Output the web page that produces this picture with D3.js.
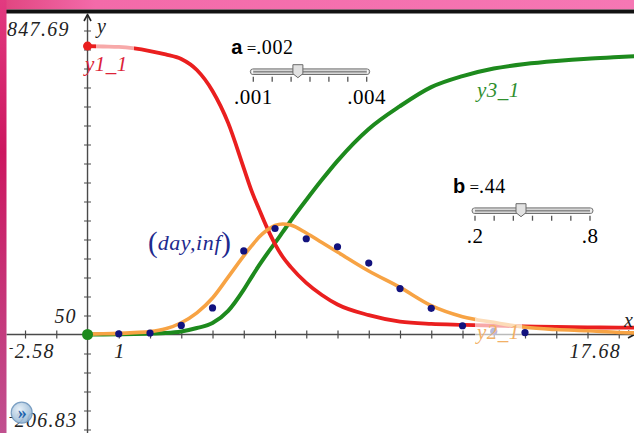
<!DOCTYPE html>
<html><head><meta charset="utf-8">
<script src="https://cdn.jsdelivr.net/npm/d3@7/dist/d3.min.js"></script>
<style>
html,body{margin:0;padding:0;background:#fff;overflow:hidden;}
svg{display:block;}
text{font-family:"Liberation Serif","Times New Roman",serif;}
</style></head><body>
<svg id="chart" width="634" height="433"></svg>
<script>
// ---- window settings ----
const xWindow = [-2.58, 17.68];
const yWindow = [-206.83, 847.69];
const xTicks = d3.range(-2, 18, 1).filter(d => d !== 0);
const yTicks = d3.range(-250, 850, 50).filter(d => d !== 0);

// ---- observed cases (day, inf) ----
const days = [1, 2, 3, 4, 5, 6, 7, 8, 9, 10, 11, 12, 13, 14];
const infected = [2, 4, 24, 70, 220, 279, 252, 231, 188, 121, 69, 23, 8, 5];

// ---- model solutions y1_1 (S), y2_1 (I), y3_1 (R) ----
const tSteps = [0, 0.5, 1, 1.5, 2, 2.5, 3, 3.5, 4, 4.5, 5, 5.25, 5.5, 5.75, 6, 6.25, 6.5, 7, 7.5, 8, 9, 10, 11, 12, 13, 14, 15, 16, 17, 17.68];
const susceptible = [759, 758, 757, 753, 746, 737, 725, 696, 641, 557, 438, 378, 328, 280, 238, 204, 178, 136, 104, 79, 51, 34, 28, 25.5, 23.4, 21.6, 19.7, 18.7, 18.2, 17.9];
const infectious = [1, 1.8, 3, 5, 7.5, 15, 31, 57, 96, 151, 207, 233, 257, 275, 287, 291, 288, 267, 242, 217, 167, 124, 76, 47, 32, 19, 13, 9.7, 5.3, 4];
const recovered = [0, 0.2, 0.6, 1.2, 2.5, 4, 8, 17, 30, 62, 118, 151, 183, 213, 241, 270, 299, 354, 407, 457, 541, 601, 651, 680, 700, 712, 720, 726, 730, 733];

// ---- sliders ----
const aRange = [0.001, 0.004], aValue = 0.00218;
const bRange = [0.2, 0.8], bValue = 0.44;

const svg = d3.select("#chart");
const defs = svg.append("defs");

const topG = defs.append("linearGradient").attr("id", "topPink").attr("x1", 0).attr("x2", 1).attr("y1", 0).attr("y2", 0);
topG.append("stop").attr("offset", 0).attr("stop-color", "#e0447f");
topG.append("stop").attr("offset", 0.15).attr("stop-color", "#f36aa9");
topG.append("stop").attr("offset", 1).attr("stop-color", "#f677b4");
const leftG = defs.append("linearGradient").attr("id", "leftPink").attr("x1", 0).attr("x2", 0).attr("y1", 0).attr("y2", 1);
leftG.append("stop").attr("offset", 0).attr("stop-color", "#e23a80");
leftG.append("stop").attr("offset", 0.35).attr("stop-color", "#cc1760");
leftG.append("stop").attr("offset", 1).attr("stop-color", "#c0508f");
const btnG = defs.append("radialGradient").attr("id", "btnFill").attr("cx", 0.4).attr("cy", 0.35).attr("r", 0.7);
btnG.append("stop").attr("offset", 0).attr("stop-color", "#e6f0f8");
btnG.append("stop").attr("offset", 1).attr("stop-color", "#8fb2d2");

defs.append("clipPath").attr("id", "plotClip")
  .append("rect").attr("x", 6.5).attr("y", 13.5).attr("width", 628).attr("height", 420);

const x = d3.scaleLinear().domain(xWindow).range([6.9, 640]);
const y = d3.scaleLinear().domain(yWindow).range([413.1, 12.4]);

const plot = svg.append("g").attr("clip-path", "url(#plotClip)");

// axes
const axisColor = "#4a4a4a";
const xAxis = plot.append("g").attr("transform", `translate(0,${y(0)})`)
  .call(d3.axisBottom(x).tickValues(xTicks).tickSizeOuter(0).tickSize(4)
    .tickFormat(d => d === 1 ? "1" : ""));
xAxis.select(".domain").remove();
xAxis.selectAll(".tick line").attr("y1", -4).attr("y2", 4).attr("stroke", axisColor).attr("stroke-width", 1.2);
xAxis.selectAll(".tick text").attr("y", 23.5).attr("dy", 0)
  .attr("font-family", "Liberation Serif").attr("font-style", "italic").attr("font-size", 21).attr("fill", "#222");
plot.append("line").attr("x1", 0).attr("x2", 634).attr("y1", y(0)).attr("y2", y(0))
  .attr("stroke", axisColor).attr("stroke-width", 1.4);

const yAxis = plot.append("g").attr("transform", `translate(${x(0)},0)`)
  .call(d3.axisLeft(y).tickValues(yTicks).tickSizeOuter(0).tickSize(3.5)
    .tickFormat(d => d === 50 ? "50" : ""));
yAxis.select(".domain").remove();
yAxis.selectAll(".tick line").attr("x1", -3.5).attr("x2", 3.5).attr("stroke", axisColor).attr("stroke-width", 1.2);
yAxis.selectAll(".tick text").attr("x", -11).attr("dy", 7)
  .attr("font-family", "Liberation Serif").attr("font-style", "italic").attr("font-size", 20)
  .attr("letter-spacing", 1).attr("fill", "#222");
plot.append("line").attr("x1", x(0)).attr("x2", x(0)).attr("y1", 15).attr("y2", 433)
  .attr("stroke", axisColor).attr("stroke-width", 1.4);
plot.append("path").attr("d", `M${x(0) - 3.5},${21} L${x(0)},${14.5} L${x(0) + 3.5},${21}`)
  .attr("fill", "none").attr("stroke", "#222").attr("stroke-width", 1.6);
plot.append("path").attr("d", `M${628},${y(0) - 3.5} L${634.5},${y(0)} L${628},${y(0) + 3.5}`)
  .attr("fill", "none").attr("stroke", "#222").attr("stroke-width", 1.6);

// curves
const curveLine = vals => d3.line()
  .x((d, i) => x(tSteps[i])).y(d => y(d)).curve(d3.curveMonotoneX)(vals);
plot.append("path").attr("d", curveLine(recovered)).attr("fill", "none")
  .attr("stroke", "#1d8a1d").attr("stroke-width", 4);
plot.append("path").attr("d", curveLine(susceptible)).attr("fill", "none")
  .attr("stroke", "#ea1f1f").attr("stroke-width", 3.8);
plot.append("path").attr("d", curveLine(infectious)).attr("fill", "none")
  .attr("stroke", "#f7a344").attr("stroke-width", 3.6);

// translucent backing behind the function labels
plot.append("rect").attr("x", 96).attr("y", 42).attr("width", 38).attr("height", 36)
  .attr("fill", "#fff").attr("opacity", 0.62);
plot.append("rect").attr("x", 475).attr("y", 318).attr("width", 47).attr("height", 27)
  .attr("fill", "#fff").attr("opacity", 0.62);

// initial values
plot.append("circle").attr("cx", x(0)).attr("cy", y(susceptible[0])).attr("r", 4.5).attr("fill", "#ea1f1f");
plot.append("circle").attr("cx", x(0)).attr("cy", y(recovered[0])).attr("r", 5.5).attr("fill", "#1d8a1d");

// observed points
plot.selectAll("circle.obs").data(days).enter().append("circle").attr("class", "obs")
  .attr("cx", d => x(d)).attr("cy", (d, i) => y(infected[i])).attr("r", 3.6)
  .attr("fill", (d, i) => d === 13 ? "#b9b9dc" : "#12127e");

// function labels
svg.append("text").attr("x", 85).attr("y", 71).attr("font-style", "italic").attr("font-size", 21)
  .attr("letter-spacing", 0.5).attr("fill", "#dc2338").text("y1_1");
svg.append("text").attr("x", 477).attr("y", 339).attr("font-style", "italic").attr("font-size", 21)
  .attr("letter-spacing", 0.5).attr("fill", "#f2b066").text("y2_1");
svg.append("text").attr("x", 477).attr("y", 97).attr("font-style", "italic").attr("font-size", 21)
  .attr("letter-spacing", 0.5).attr("fill", "#2f8f2f").text("y3_1");

// scatter label
const dl = svg.append("text").attr("x", 148).attr("y", 250).attr("fill", "#1e2a8e");
dl.append("tspan").attr("font-size", 29).attr("dy", 2).text("(");
dl.append("tspan").attr("font-size", 22).attr("font-style", "italic").attr("dy", -2).attr("letter-spacing", 0.6).text("day,inf");
dl.append("tspan").attr("font-size", 29).attr("dy", 2).text(")");

// axis labels
svg.append("text").attr("x", 97).attr("y", 33).attr("font-style", "italic").attr("font-size", 20).attr("fill", "#222").text("y");
svg.append("text").attr("x", 624).attr("y", 327).attr("font-style", "italic").attr("font-size", 20).attr("fill", "#222").text("x");

// window bounds
const fmtBound = v => Math.abs(v).toFixed(2);
function boundLabel(xp, yp, v, anchor) {
  const t = svg.append("text").attr("x", xp).attr("y", yp).attr("text-anchor", anchor)
    .attr("font-style", "italic").attr("font-size", 20).attr("letter-spacing", 1.3).attr("fill", "#222");
  if (v < 0) t.append("tspan").attr("font-size", 13).attr("dy", -6).text("-");
  t.append("tspan").attr("dy", v < 0 ? 6 : 0).text(fmtBound(v));
}
boundLabel(7, 36, yWindow[1], "start");
boundLabel(9, 358, xWindow[0], "start");
boundLabel(621, 358, xWindow[1], "end");
boundLabel(9, 427, yWindow[0], "start");

// sliders
const fmtSlider = (v, p) => d3.format(`.${p}f`)(v).replace(/^0/, "");
function slider(name, range, value, prec, endPrec, x0, x1, ty) {
  const s = d3.scaleLinear().domain(range).range([x0, x1]);
  const g = svg.append("g");
  const lab = g.append("text").attr("x", x0 - 22).attr("y", ty - 17.5).attr("font-size", 20);
  lab.append("tspan").attr("font-family", "Liberation Sans").attr("font-weight", "bold").text(name);
  lab.append("tspan").attr("font-size", 17).text(" =");
  lab.append("tspan").attr("letter-spacing", 0.6).text(fmtSlider(value, prec));
  g.append("rect").attr("x", x0 - 3).attr("y", ty - 2.8).attr("width", x1 - x0 + 6).attr("height", 5.6)
    .attr("rx", 2.8).attr("fill", "#d6d6d6").attr("stroke", "#707070").attr("stroke-width", 1);
  g.append("line").attr("x1", x0).attr("x2", x1).attr("y1", ty).attr("y2", ty)
    .attr("stroke", "#8a8a8a").attr("stroke-width", 1.4);
  [x0 - 1, x1 + 1].forEach(px => g.append("line").attr("x1", px).attr("x2", px)
    .attr("y1", ty - 2).attr("y2", ty + 2).attr("stroke", "#fff").attr("stroke-width", 1));
  const ticks = d3.range(7).map(i => range[0] + i * (range[1] - range[0]) / 6);
  g.selectAll("line.tk").data(ticks).enter().append("line").attr("class", "tk")
    .attr("x1", d => s(d)).attr("x2", d => s(d)).attr("y1", ty + 5).attr("y2", ty + 10)
    .attr("stroke", "#555").attr("stroke-width", 1.3);
  const px = s(value);
  g.append("path").attr("d", `M${px - 5},${ty - 7} L${px + 5},${ty - 7} L${px + 5},${ty + 2} L${px},${ty + 6} L${px - 5},${ty + 2} Z`)
    .attr("fill", "#e2e2e2").attr("stroke", "#6a6a6a").attr("stroke-width", 1);
  [range[0], range[1]].forEach(v => g.append("text").attr("x", s(v)).attr("y", ty + 32)
    .attr("text-anchor", "middle").attr("font-size", 21).attr("letter-spacing", 0.5).text(fmtSlider(v, endPrec)));
}
slider("a", aRange, aValue, 3, 3, 253.3, 366.7, 71.7);
slider("b", bRange, bValue, 2, 1, 475, 590, 210.7);

// frame
svg.append("rect").attr("x", 0).attr("y", 0).attr("width", 634).attr("height", 9.5).attr("fill", "url(#topPink)");
svg.append("rect").attr("x", 0).attr("y", 9.5).attr("width", 634).attr("height", 4).attr("fill", "#121212");
svg.append("rect").attr("x", 0).attr("y", 0).attr("width", 6.5).attr("height", 433).attr("fill", "url(#leftPink)");

// page button
const btn = svg.append("g").attr("transform", "translate(21.7,412.7)");
btn.append("circle").attr("r", 10.5).attr("fill", "url(#btnFill)").attr("stroke", "#6f97be").attr("stroke-width", 1.2).attr("opacity", 0.92);
btn.append("text").attr("text-anchor", "middle").attr("x", 0.5).attr("y", 6).attr("font-family", "DejaVu Sans")
  .attr("font-weight", "bold").attr("font-size", 18).attr("fill", "#1f63ad").text("»");
</script>
</body></html>
